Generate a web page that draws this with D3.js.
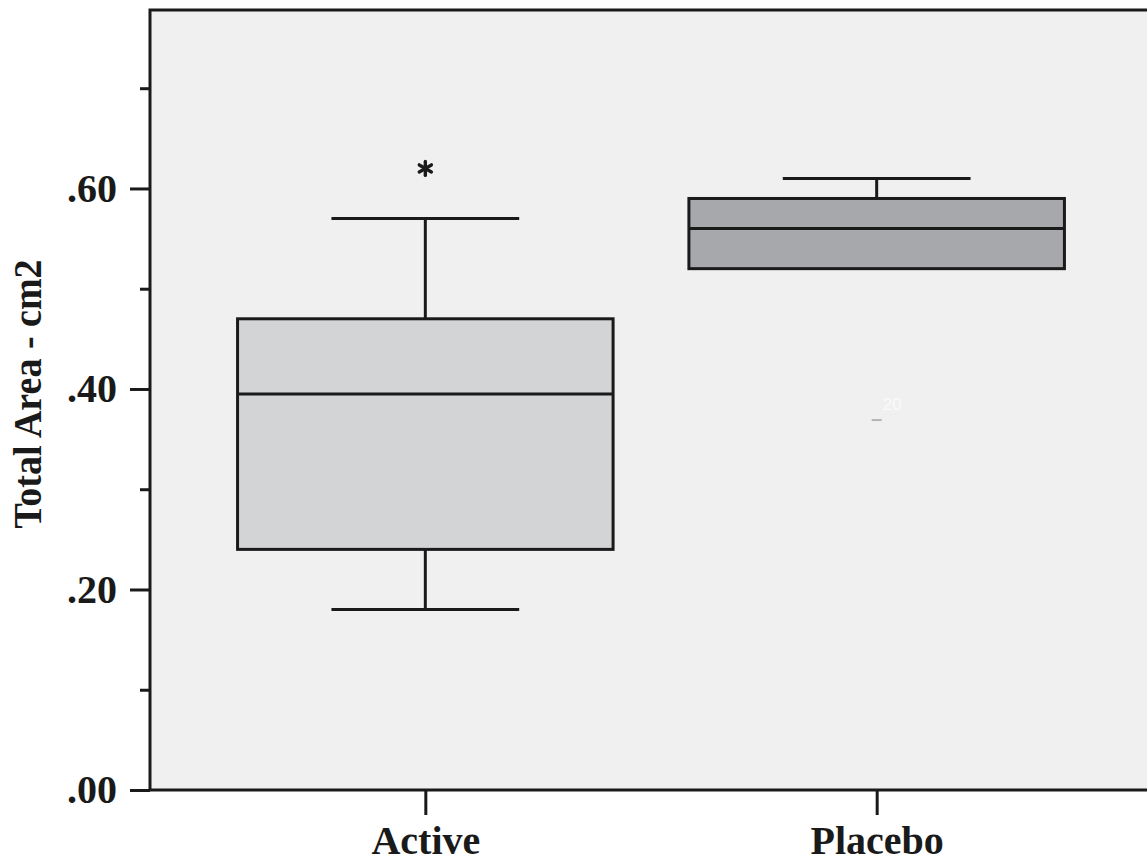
<!DOCTYPE html>
<html>
<head>
<meta charset="utf-8">
<script src="https://cdn.jsdelivr.net/npm/d3@7"></script>
<style>
  body { margin: 0; background: #fff; }
  svg { display: block; }
  .axis text { font-family: "Liberation Serif", "Times New Roman", serif; font-weight: bold; fill: #1a1a1a; }
</style>
</head>
<body>
<svg id="chart"></svg>
<script>
// data
const groups = ['Active', 'Placebo']
const whiskerLow = [0.18, 0.52]
const q1 = [0.24, 0.52]
const median = [0.395, 0.56]
const q3 = [0.47, 0.59]
const whiskerHigh = [0.57, 0.61]
const extremeGroup = ['Active']
const extremeValue = [0.62]
// faint case marker left in the placebo column
const faintGroup = ['Placebo']
const faintValue = [0.369]
const faintLabel = ['20']

const majorTicks = [0, 0.2, 0.4, 0.6]
const majorLabels = ['.00', '.20', '.40', '.60']
const minorTicks = [0.1, 0.3, 0.5, 0.7]

const width = 1147
const height = 863
const margin = {top: 10, right: -5, bottom: 73, left: 150}
const ink = '#1a1a1a'

const svg = d3.select('#chart')
    .attr('width', width)
    .attr('height', height)

const x = d3.scalePoint()
    .domain(groups)
    .range([margin.left, width - margin.right])
    .padding(0.61)

const y = d3.scaleLinear()
    .domain([0, 0.778])
    .range([height - margin.bottom, margin.top])

const boxW = x.step() * 0.832
const capW = boxW / 2

// plot background + frame
svg.append('rect')
    .attr('x', margin.left)
    .attr('y', margin.top)
    .attr('width', width - margin.right - margin.left)
    .attr('height', y(0) - margin.top)
    .attr('fill', '#f0f0f0')
    .attr('stroke', ink)
    .attr('stroke-width', 3)

const boxes = groups.map((g, i) => ({
    g, lo: whiskerLow[i], q1: q1[i], med: median[i], q3: q3[i], hi: whiskerHigh[i]
}))
const fills = d3.scaleOrdinal(groups, ['#d3d4d6', '#a7a8ab'])

const box = svg.selectAll('g.box')
    .data(boxes)
    .enter()
    .append('g')
    .attr('class', 'box')

// whisker stems
box.append('line')
    .attr('x1', d => x(d.g)).attr('x2', d => x(d.g))
    .attr('y1', d => y(d.hi)).attr('y2', d => y(d.q3))
    .attr('stroke', ink).attr('stroke-width', 3)
box.filter(d => d.lo < d.q1).append('line')
    .attr('x1', d => x(d.g)).attr('x2', d => x(d.g))
    .attr('y1', d => y(d.q1)).attr('y2', d => y(d.lo))
    .attr('stroke', ink).attr('stroke-width', 3)

// caps
box.append('line')
    .attr('x1', d => x(d.g) - capW / 2).attr('x2', d => x(d.g) + capW / 2)
    .attr('y1', d => y(d.hi)).attr('y2', d => y(d.hi))
    .attr('stroke', ink).attr('stroke-width', 3)
box.filter(d => d.lo < d.q1).append('line')
    .attr('x1', d => x(d.g) - capW / 2).attr('x2', d => x(d.g) + capW / 2)
    .attr('y1', d => y(d.lo)).attr('y2', d => y(d.lo))
    .attr('stroke', ink).attr('stroke-width', 3)

// the box itself
box.append('rect')
    .attr('x', d => x(d.g) - boxW / 2)
    .attr('y', d => y(d.q3))
    .attr('width', boxW)
    .attr('height', d => y(d.q1) - y(d.q3))
    .attr('fill', d => fills(d.g))
    .attr('stroke', ink)
    .attr('stroke-width', 3)

// median
box.append('line')
    .attr('x1', d => x(d.g) - boxW / 2).attr('x2', d => x(d.g) + boxW / 2)
    .attr('y1', d => y(d.med)).attr('y2', d => y(d.med))
    .attr('stroke', ink).attr('stroke-width', 3)

// extreme value drawn as a small asterisk
const star = svg.selectAll('g.star')
    .data(extremeGroup.map((g, i) => ({g, v: extremeValue[i]})))
    .enter()
    .append('g')
    .attr('class', 'star')
    .attr('transform', d => `translate(${x(d.g)},${y(d.v)})`)
star.selectAll('line')
    .data([90, 30, 150])
    .enter()
    .append('line')
    .attr('x1', a => -7 * Math.cos(a * Math.PI / 180))
    .attr('y1', a => -7 * Math.sin(a * Math.PI / 180))
    .attr('x2', a => 7 * Math.cos(a * Math.PI / 180))
    .attr('y2', a => 7 * Math.sin(a * Math.PI / 180))
    .attr('stroke', ink)
    .attr('stroke-width', 3.4)
    .attr('stroke-linecap', 'round')

// faint marker and label
const faint = svg.selectAll('g.faint')
    .data(faintGroup.map((g, i) => ({g, v: faintValue[i], label: faintLabel[i]})))
    .enter()
    .append('g')
    .attr('class', 'faint')
faint.append('line')
    .attr('x1', d => x(d.g) - 5).attr('x2', d => x(d.g) + 5)
    .attr('y1', d => y(d.v)).attr('y2', d => y(d.v))
    .attr('stroke', '#b4b4b4').attr('stroke-width', 2)
faint.append('text')
    .attr('x', d => x(d.g) + 6)
    .attr('y', d => y(d.v) - 10)
    .attr('font-family', 'Arial, "Liberation Sans", sans-serif')
    .attr('font-size', 17)
    .attr('fill', '#fbfbfb')
    .text(d => d.label)

// y axis: major + minor ticks
const yAxis = svg.append('g')
    .attr('class', 'axis')
    .attr('transform', `translate(${margin.left},0)`)
    .call(d3.axisLeft(y)
        .tickValues(majorTicks)
        .tickFormat((d, i) => majorLabels[i])
        .tickSize(20)
        .tickPadding(13))
yAxis.select('.domain').remove()
yAxis.selectAll('line').attr('stroke', ink).attr('stroke-width', 3)
yAxis.selectAll('text').attr('font-size', 40)

const yMinor = svg.append('g')
    .attr('transform', `translate(${margin.left},0)`)
    .call(d3.axisLeft(y).tickValues(minorTicks).tickSize(10).tickFormat(''))
yMinor.select('.domain').remove()
yMinor.selectAll('line').attr('stroke', ink).attr('stroke-width', 3)

// x axis
const xAxis = svg.append('g')
    .attr('class', 'axis')
    .attr('transform', `translate(0,${y(0)})`)
    .call(d3.axisBottom(x).tickSize(25).tickPadding(11))
xAxis.select('.domain').remove()
xAxis.selectAll('line').attr('stroke', ink).attr('stroke-width', 3)
xAxis.selectAll('text').attr('font-size', 40)

// y axis title
svg.append('text')
    .attr('class', 'axis')
    .attr('transform', `translate(41,${(y(0) + margin.top) / 2 - 6}) rotate(-90) scale(0.95,1)`)
    .attr('text-anchor', 'middle')
    .attr('font-family', '"Liberation Serif", serif')
    .attr('font-weight', 'bold')
    .attr('font-size', 40)
    .attr('fill', ink)
    .text('Total Area - cm2')
</script>
</body>
</html>
